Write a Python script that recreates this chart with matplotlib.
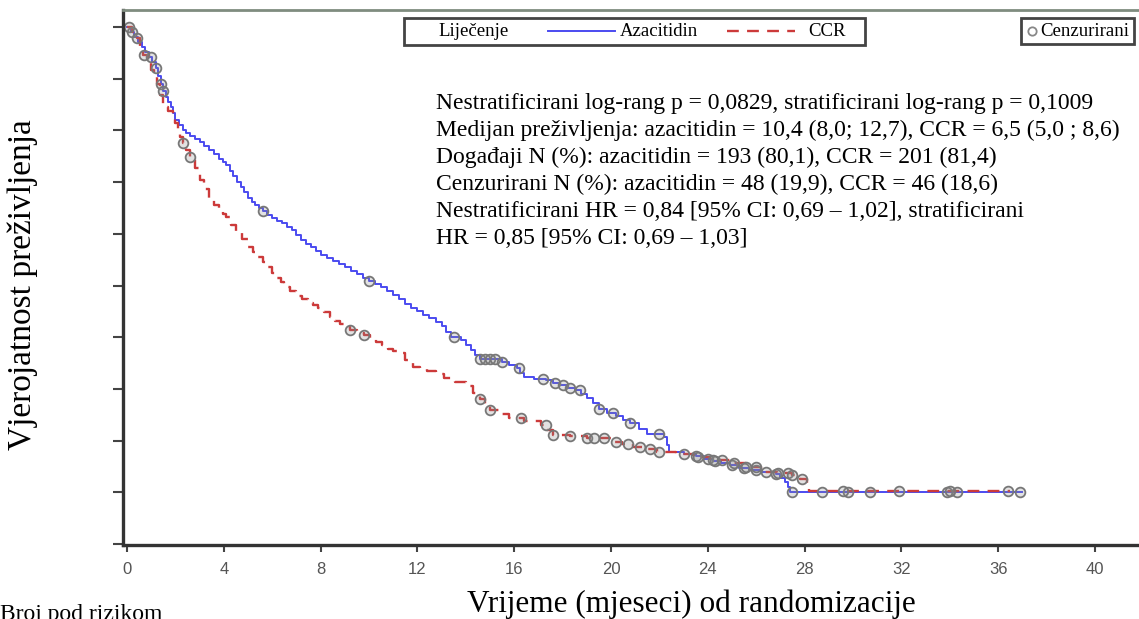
import matplotlib

matplotlib.use("Agg")
import matplotlib.pyplot as plt
from matplotlib.lines import Line2D
from matplotlib.patches import Rectangle
import numpy as np

# Kaplan-Meier curves (time in months, survival after each drop)
aza_time = [0, 0.15, 0.3, 0.45, 0.6, 0.75, 0.9, 1.05, 1.2, 1.3, 1.4, 1.5, 1.6, 1.7, 1.8,
            1.9, 2.0, 2.15, 2.3, 2.45, 2.6, 2.8, 3.0, 3.2, 3.4, 3.6, 3.8, 3.95, 4.1, 4.25,
            4.4, 4.55, 4.7, 4.85, 5.0, 5.15, 5.3, 5.45, 5.6, 5.8, 6.0, 6.2, 6.4, 6.6, 6.8,
            7.0, 7.2, 7.4, 7.6, 7.8, 8.0, 8.25, 8.5, 8.75, 9.0, 9.25, 9.5, 9.75, 10.0,
            10.25, 10.5, 10.75, 11.0, 11.25, 11.5, 11.75, 12.0, 12.25, 12.5, 12.75, 13.0,
            13.2, 13.4, 13.8, 14.0, 14.2, 14.4, 14.6, 15.5, 15.8, 16.1, 16.25, 16.4, 16.8,
            17.3, 17.6, 17.9, 18.2, 18.5, 18.75, 19.0, 19.25, 19.5, 19.85, 20.2, 20.5,
            20.8, 21.15, 21.5, 22.2, 22.3, 22.4, 23.0, 23.5, 23.85, 24.2, 24.55, 24.9,
            25.3, 25.7, 26.2, 26.8, 27.0, 27.2, 27.3, 27.4, 37.0]
aza_surv = [1.0, 0.99, 0.98, 0.972, 0.962, 0.952, 0.943, 0.932, 0.92, 0.905, 0.89, 0.876,
            0.865, 0.855, 0.845, 0.833, 0.82, 0.81, 0.80, 0.795, 0.79, 0.784, 0.778, 0.77,
            0.762, 0.754, 0.745, 0.739, 0.733, 0.722, 0.712, 0.70, 0.69, 0.68, 0.67, 0.662,
            0.655, 0.65, 0.644, 0.637, 0.63, 0.625, 0.62, 0.614, 0.608, 0.598, 0.588,
            0.581, 0.575, 0.567, 0.559, 0.553, 0.548, 0.541, 0.535, 0.528, 0.522, 0.515,
            0.509, 0.503, 0.498, 0.49, 0.482, 0.473, 0.465, 0.457, 0.45, 0.443, 0.437,
            0.43, 0.422, 0.41, 0.40, 0.395, 0.385, 0.375, 0.366, 0.357, 0.352, 0.346,
            0.34, 0.331, 0.323, 0.32, 0.317, 0.312, 0.307, 0.302, 0.298, 0.29, 0.283,
            0.272, 0.262, 0.254, 0.247, 0.24, 0.234, 0.223, 0.212, 0.207, 0.192, 0.178,
            0.174, 0.170, 0.165, 0.160, 0.156, 0.152, 0.147, 0.143, 0.139, 0.135, 0.128,
            0.12, 0.11, 0.101, 0.101]

ccr_time = [0, 0.2, 0.4, 0.55, 0.66, 0.85, 1.0, 1.12, 1.24, 1.37, 1.5, 1.7, 1.9, 2.0, 2.1,
            2.2, 2.3, 2.45, 2.6, 2.8, 3.0, 3.2, 3.4, 3.6, 3.8, 3.95, 4.1, 4.3, 4.5, 4.75,
            5.0, 5.2, 5.4, 5.6, 5.8, 6.0, 6.2, 6.35, 6.5, 6.75, 7.0, 7.25, 7.5, 7.7, 7.9,
            8.15, 8.4, 8.6, 8.8, 9.0, 9.2, 9.5, 9.8, 10.05, 10.3, 10.55, 10.8, 11.0, 11.2,
            11.5, 11.8, 12.1, 12.4, 12.75, 13.1, 13.55, 14.0, 14.3, 14.6, 14.8, 15.0, 15.4,
            15.8, 16.4, 17.1, 17.35, 17.6, 18.3, 19.0, 20.0, 20.45, 20.9, 21.4, 21.9, 22.7,
            23.4, 24.1, 25.0, 25.6, 26.2, 26.85, 27.5, 27.8, 28.1, 28.2, 36.5]
ccr_surv = [1.0, 0.99, 0.978, 0.962, 0.945, 0.93, 0.917, 0.905, 0.89, 0.868, 0.845, 0.838,
            0.83, 0.815, 0.80, 0.788, 0.775, 0.762, 0.748, 0.727, 0.705, 0.687, 0.668,
            0.656, 0.645, 0.638, 0.632, 0.618, 0.605, 0.59, 0.575, 0.565, 0.555, 0.545,
            0.536, 0.525, 0.515, 0.506, 0.498, 0.489, 0.48, 0.473, 0.466, 0.462, 0.457,
            0.448, 0.44, 0.432, 0.425, 0.42, 0.414, 0.409, 0.404, 0.397, 0.39, 0.384,
            0.378, 0.373, 0.369, 0.355, 0.342, 0.338, 0.335, 0.328, 0.321, 0.313, 0.305,
            0.292, 0.28, 0.27, 0.26, 0.252, 0.244, 0.237, 0.23, 0.22, 0.211, 0.208, 0.205,
            0.198, 0.193, 0.188, 0.183, 0.178, 0.175, 0.168, 0.162, 0.157, 0.148, 0.14,
            0.137, 0.133, 0.125, 0.118, 0.102, 0.102]

# censoring times
aza_cens = [0.2, 1.0, 1.2, 1.4, 1.5, 5.6, 10.0, 13.5, 14.6, 14.8, 15.0, 15.2, 15.5, 16.2,
            17.2, 17.7, 18.0, 18.3, 18.7, 19.5, 20.1, 20.8, 22.0, 23.5, 24.0, 24.3, 25.0,
            25.5, 26.0, 26.8, 27.5, 28.7, 29.8, 30.7, 33.9, 34.3, 36.9]
ccr_cens = [0.1, 0.4, 0.7, 2.3, 2.6, 9.2, 9.8, 14.6, 15.0, 16.3, 17.3, 17.6, 18.3, 19.0,
            19.3, 19.7, 20.2, 20.7, 21.2, 21.6, 22.0, 23.0, 23.6, 24.2, 24.6, 25.1, 25.6,
            26.0, 26.4, 26.9, 27.3, 27.5, 27.9, 29.6, 31.9, 34.0, 36.4]

x_ticks = [0, 4, 8, 12, 16, 20, 24, 28, 32, 36, 40]
y_ticks = [0.0, 0.1, 0.2, 0.3, 0.4, 0.5, 0.6, 0.7, 0.8, 0.9, 1.0]

legend_title = "Liječenje"
group_names = ["Azacitidin", "CCR"]
censor_label = "Cenzurirani"

stats_lines = [
    "Nestratificirani log-rang p = 0,0829, stratificirani log-rang p = 0,1009",
    "Medijan preživljenja: azacitidin = 10,4 (8,0; 12,7), CCR = 6,5 (5,0 ; 8,6)",
    "Događaji N (%): azacitidin = 193 (80,1), CCR = 201 (81,4)",
    "Cenzurirani N (%): azacitidin = 48 (19,9), CCR = 46 (18,6)",
    "Nestratificirani HR = 0,84 [95% CI: 0,69 – 1,02], stratificirani",
    "HR = 0,85 [95% CI: 0,69 – 1,03]",
]

W, H = 1139, 619
BLUE = "#4b4bf0"
RED = "#cc3a3a"
DASH = (0, (5, 3.5))
SERIF = ["Liberation Serif", "DejaVu Serif"]


def fx(px):
    return px / W


def fy(py):
    return 1 - py / H


def step_value(times, surv, t):
    idx = np.searchsorted(np.asarray(times), t, side="right") - 1
    return np.asarray(surv)[idx]


def legend_box(fig, left, top, right, bottom):
    fig.patches.append(Rectangle((fx(left), fy(bottom)), fx(right) - fx(left),
                                 fy(top) - fy(bottom), transform=fig.transFigure,
                                 facecolor="white", edgecolor="#444444", linewidth=2.0,
                                 zorder=5))


def main():
    fig = plt.figure(figsize=(W / 100, H / 100), dpi=100)
    ax = fig.add_axes([fx(123), fy(545), fx(W - 123), (545 - 10) / H])

    ax.plot(aza_time, aza_surv, drawstyle="steps-post", color=BLUE, linewidth=1.4)
    ax.plot(ccr_time, ccr_surv, drawstyle="steps-post", color=RED, linewidth=1.7,
            linestyle=DASH)

    marker_kw = dict(linestyle="none", marker="o", markersize=7, markeredgewidth=1.3,
                     markeredgecolor="#777777", markerfacecolor=(0.55, 0.55, 0.55, 0.25))
    ax.plot(aza_cens, step_value(aza_time, aza_surv, aza_cens), **marker_kw)
    ax.plot(ccr_cens, step_value(ccr_time, ccr_surv, ccr_cens), **marker_kw)

    ax.set_xlim(-0.165, 41.82)
    ax.set_ylim(-0.002, 1.033)
    ax.set_xticks(x_ticks)
    ax.set_xticklabels([str(t) for t in x_ticks], fontsize=12, color="#555555",
                       family=["Liberation Sans", "DejaVu Sans"])
    ax.set_yticks(y_ticks)
    ax.set_yticklabels([])
    ax.tick_params(axis="both", direction="out", color="#444444", width=1.5)
    ax.tick_params(axis="y", length=7)
    ax.tick_params(axis="x", length=5, pad=7)

    ax.spines["right"].set_visible(False)
    for side in ("left", "bottom"):
        ax.spines[side].set_color("#333333")
        ax.spines[side].set_linewidth(2.4)
    ax.spines["top"].set_color("#7f8c7f")
    ax.spines["top"].set_linewidth(2.0)

    # treatment legend, laid out like the original
    legend_box(fig, 404, 18, 865, 45)
    fig.text(fx(438), fy(31), legend_title, ha="left", va="center", fontsize=13.5,
             family=SERIF, zorder=6)
    fig.lines.append(Line2D([fx(548), fx(615)], [fy(31), fy(31)], transform=fig.transFigure,
                            color=BLUE, linewidth=1.4, zorder=6))
    fig.text(fx(620), fy(31), group_names[0], ha="left", va="center", fontsize=13.5,
             family=SERIF, zorder=6)
    fig.lines.append(Line2D([fx(727), fx(795)], [fy(31), fy(31)], transform=fig.transFigure,
                            color=RED, linewidth=1.7, linestyle=DASH, zorder=6))
    fig.text(fx(808), fy(31), group_names[1], ha="left", va="center", fontsize=13.5,
             family=SERIF, zorder=6)

    legend_box(fig, 1021, 18, 1134, 44)
    fig.lines.append(Line2D([fx(1032)], [fy(31)], transform=fig.transFigure,
                            linestyle="none", marker="o", markersize=6,
                            markeredgewidth=1.3, markeredgecolor="#888888",
                            markerfacecolor="none", zorder=6))
    fig.text(fx(1040), fy(31), censor_label, ha="left", va="center", fontsize=13.5,
             family=SERIF, zorder=6)

    fig.text(fx(436), fy(93), "\n".join(stats_lines), ha="left", va="top", fontsize=17,
             family=SERIF, linespacing=1.37)

    fig.text(fx(23), fy(285), "Vjerojatnost preživljenja", rotation=90,
             ha="center", va="center", fontsize=24, family=SERIF)
    fig.text(fx(691), fy(604), "Vrijeme (mjeseci) od randomizacije",
             ha="center", va="center", fontsize=22.5, family=SERIF)
    fig.text(0.0, fy(604), "Broj pod rizikom", ha="left", va="top",
             fontsize=17, family=SERIF)

    fig.savefig("out.png", dpi=100)
    plt.close(fig)


if __name__ == "__main__":
    main()
